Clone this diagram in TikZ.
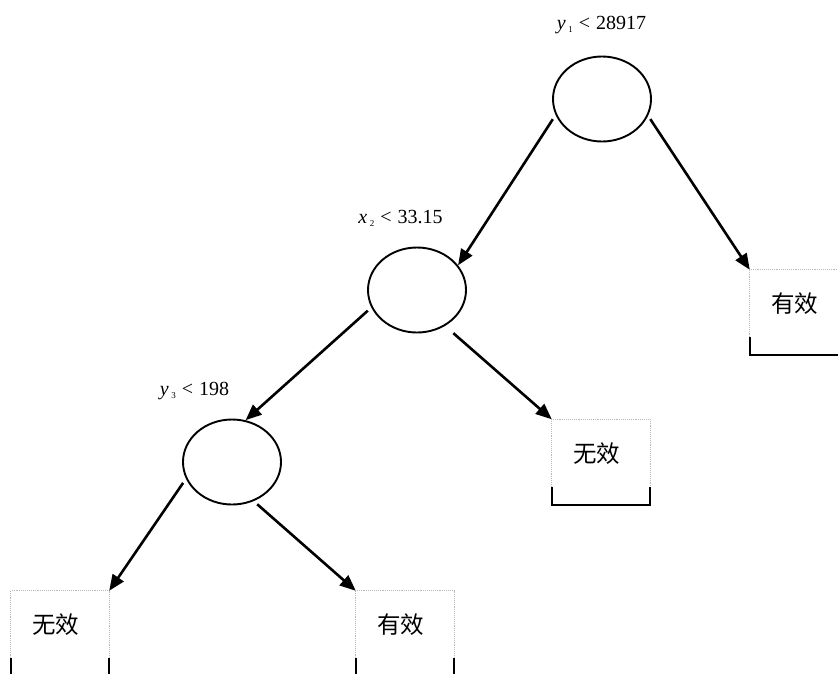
\documentclass[tikz,border=0pt]{standalone}
\usepackage{fontspec}
\setmainfont{Liberation Serif}
\newfontfamily\cjk{Noto Sans CJK SC}
\usetikzlibrary{arrows.meta,shapes.geometric,calc}

% condition text: italic variable, small subscript, "<", value
\newcommand\condlabel[3]{{\itshape #1}\hspace{0.12em}\raisebox{-0.35ex}{\fontsize{9}{9}\selectfont #2}\hspace{0.3em}<\hspace{0.3em}#3}

\begin{document}
\begin{tikzpicture}[x=1pt,y=-1pt,
  split/.style={draw=black, line width=1.9pt, ellipse, minimum width=98pt, minimum height=85pt, inner sep=0pt},
  leaf/.style={rectangle, minimum width=98pt, minimum height=85pt, inner sep=0pt,
    text height=12pt, text depth=12pt, font=\cjk\fontsize{23.5}{26}\selectfont},
  cond/.style={font=\fontsize{20}{22}\selectfont, inner sep=0pt, anchor=base},
  arr/.style={line width=2.6pt, -{Triangle[length=16pt,width=13pt]}},
  faint/.style={draw=gray!55, line width=0.9pt, densely dotted},
  solidedge/.style={draw=black, line width=2pt},
]
\useasboundingbox (0,0) rectangle (838,673);

% split nodes
\node[split] (e1) at (602,99) {};
\node[split] (e2) at (417,290) {};
\node[split] (e3) at (232,462) {};

% conditions
\node[cond] (c1) at (601.5,29) {\condlabel{y}{1}{28917}};
\node[cond] (c2) at (400.5,223) {\condlabel{x}{2}{33.15}};
\node[cond] (c3) at (194.5,395) {\condlabel{y}{3}{198}};

% leaves (text sits a little left of centre)
\node[leaf] (r)  at (799,312.5) {\hspace*{-9pt}有效};
\node[leaf] (m)  at (601,462) {\hspace*{-9pt}无效};
\node[leaf] (bl) at (60,633.5) {\hspace*{-9pt}无效};
\node[leaf] (bm) at (405,633.5) {\hspace*{-9pt}有效};

% leaf outlines: faint dotted top, solid bottom part
\foreach \b in {r,m,bl,bm}{
  \draw[faint] ($(\b.south west)+(0,-18)$) -- (\b.north west) -- (\b.north east) -- ($(\b.south east)+(0,-18)$);
  \draw[solidedge] ($(\b.south west)+(0,-18)$) -- (\b.south west) -- (\b.south east) -- ($(\b.south east)+(0,-18)$);
}

% connectors
\draw[arr, shorten <=5pt]   (e1.199) -- (e2.31);
\draw[arr, shorten <=4pt]   (e1.340) -- (r.north west);
\draw[arr, shorten <=4.7pt] (e2.201) -- (e3.72);
\draw[arr, shorten <=11pt]  (e2.308) -- (m.north west);
\draw[arr, shorten <=5pt]   (e3.200) -- (bl.north east);
\draw[arr, shorten <=4.7pt] (e3.299) -- (bm.north west);
\end{tikzpicture}
\end{document}
